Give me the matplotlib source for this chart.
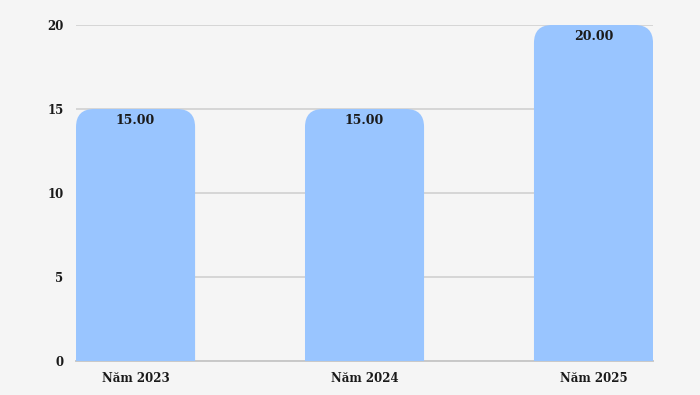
import matplotlib.pyplot as plt
from matplotlib.patches import FancyBboxPatch

categories = ['Năm 2023', 'Năm 2024', 'Năm 2025']
values = [15, 15, 20]
yticks = [0, 5, 10, 15, 20]

plt.rcParams['font.family'] = ['DejaVu Serif']
fig = plt.figure(figsize=(7, 3.95), dpi=100, facecolor='#f5f5f5')
ax = fig.add_axes([0.1086, 0.0861, 0.8243, 0.8506], facecolor='#f5f5f5')

xs = list(range(len(categories)))
ax.set_xlim(-0.26, 2.26)
ax.set_ylim(0, 20)

width = 0.52
# rounded top corners, ~18 px radius, converted to data units
px_x = 2.52 / 577
px_y = 20 / 336
r = 18 * px_x
for x, v in zip(xs, values):
    p = FancyBboxPatch((x - width / 2, -3), width, v + 3,
                       boxstyle=f'round,pad=0,rounding_size={r}',
                       mutation_aspect=px_y / px_x,
                       facecolor='#99c5ff', edgecolor='none', zorder=3)
    ax.add_patch(p)
    ax.text(x, v - 0.3, f'{v:.2f}', ha='center', va='top', fontsize=9,
            fontweight='bold', color='#1a1a1a', zorder=4)

ax.set_xticks(xs)
ax.set_xticklabels(categories, fontsize=8.5, fontweight='bold', color='#1a1a1a')
ax.set_yticks(yticks)
ax.set_yticklabels([str(t) for t in yticks], fontsize=8.5, fontweight='bold', color='#1a1a1a')
ax.tick_params(axis='x', length=0, pad=8)
ax.tick_params(axis='y', length=0, pad=9)
ax.grid(axis='y', color='#d6d6d6', linewidth=1.4, zorder=0)
for s in ['top', 'right', 'left']:
    ax.spines[s].set_visible(False)
ax.spines['bottom'].set_color('#c8c8c8')
ax.spines['bottom'].set_linewidth(1.4)

fig.savefig('out.png', dpi=100, facecolor='#f5f5f5')
